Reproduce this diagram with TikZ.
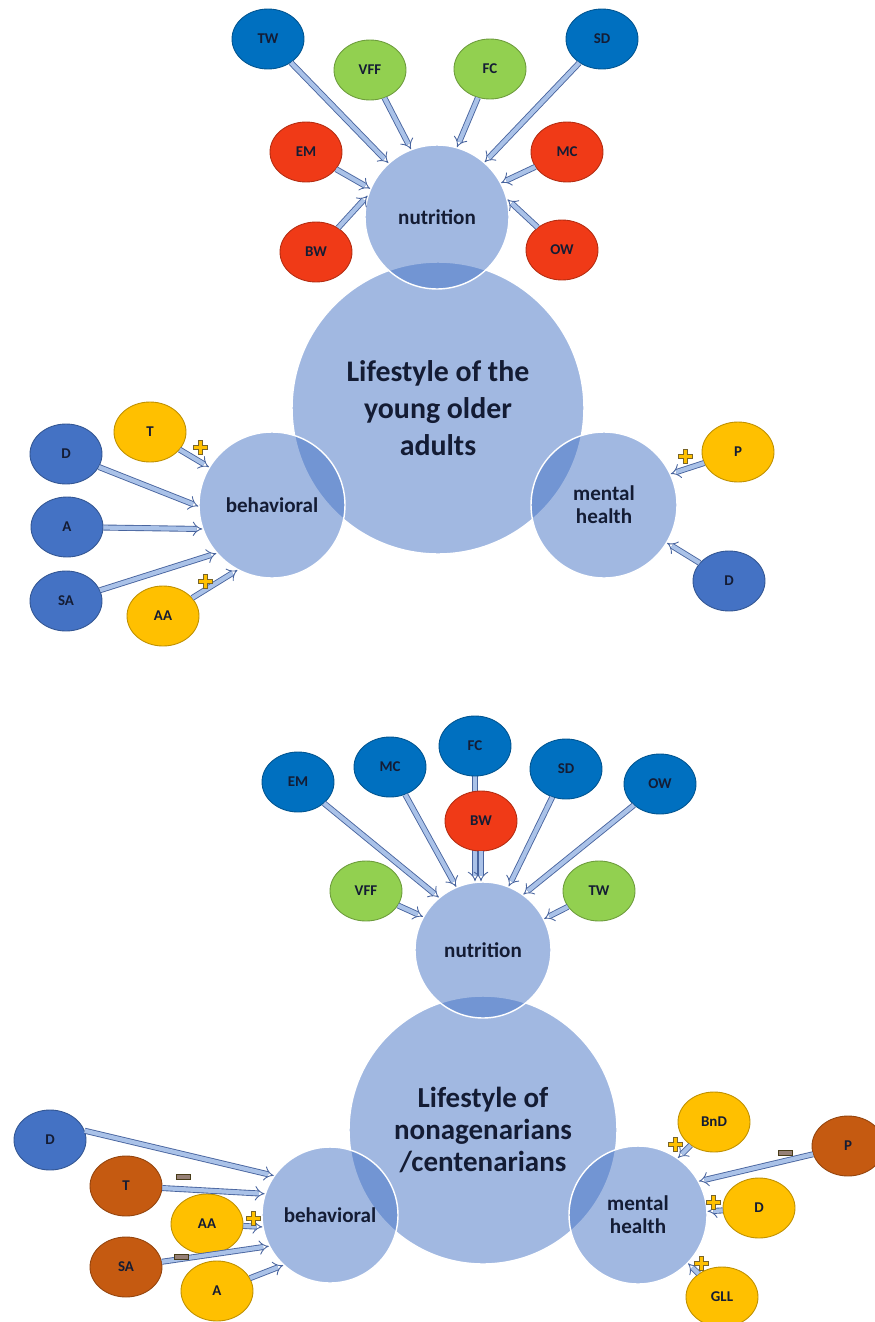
\documentclass[tikz,border=0pt]{standalone}
\usepackage{fontspec}
\setmainfont{Carlito}
\usetikzlibrary{shapes.geometric,arrows.meta,backgrounds}

\definecolor{hubblue}{RGB}{68,114,196}
\definecolor{navy}{RGB}{0,112,192}
\definecolor{midblue}{RGB}{68,114,196}
\definecolor{satred}{RGB}{240,58,23}
\definecolor{satgreen}{RGB}{146,208,80}
\definecolor{satyellow}{RGB}{255,192,0}
\definecolor{satbrown}{RGB}{197,90,17}
\definecolor{labelcol}{RGB}{20,28,52}
\definecolor{arrowedge}{RGB}{72,100,158}
\definecolor{arrowfill}{RGB}{170,194,232}
\definecolor{signedge}{RGB}{120,100,40}
\definecolor{minusfill}{RGB}{150,128,118}

\begin{document}
\begin{tikzpicture}[x=0.02cm, y=-0.02cm,
    hub/.style={circle, minimum size=#1, inner sep=0pt, fill=hubblue, fill opacity=0.5,
        text opacity=1, draw=white, line width=0.8pt, align=center, text=labelcol,
        font=\bfseries\fontsize{12}{13}\selectfont},
    big/.style={hub=#1, font=\bfseries\fontsize{17}{21}\selectfont},
    sat/.style={ellipse, minimum width=1.44cm, minimum height=1.2cm, inner sep=0pt,
        fill=#1, draw=#1!75!black, line width=0.5pt, text=labelcol,
        font=\bfseries\fontsize{8.5}{10}\selectfont},
    arr/.style={draw=arrowedge, line width=0.5pt, double=arrowfill, double distance=2.4pt, -{Implies}},
    plussign/.pic={\draw[signedge, line width=0.4pt, fill=satyellow]
        (-2,-7) -- (2,-7) -- (2,-2) -- (7,-2) -- (7,2) -- (2,2) -- (2,7) -- (-2,7)
        -- (-2,2) -- (-7,2) -- (-7,-2) -- (-2,-2) -- cycle;},
    minussign/.pic={\draw[signedge!60!black, line width=0.4pt, fill=minusfill]
        (-7,-2.5) rectangle (7,2.5);}]
    \useasboundingbox (0,0) rectangle (875,1322);

    % young older adults
    \node[big=5.84cm] (life1) at (438,408) {Lifestyle of the\\young older\\adults};
    \node[hub=2.88cm] (nut1) at (437,217) {nutrition};
    \node[hub=2.92cm] (beh1) at (272,505) {behavioral};
    \node[hub=2.92cm] (men1) at (604,505) {mental\\health};

    \node[sat=navy] (tw1) at (268,39) {TW};
    \node[sat=satgreen] (vff1) at (370,70) {VFF};
    \node[sat=satgreen] (fc1) at (490,69) {FC};
    \node[sat=navy] (sd1) at (602,39) {SD};
    \node[sat=satred] (em1) at (306,152) {EM};
    \node[sat=satred] (mc1) at (567,152) {MC};
    \node[sat=satred] (bw1) at (316,252) {BW};
    \node[sat=satred] (ow1) at (562,250) {OW};

    \node[sat=satyellow] (t1) at (150,432) {T};
    \node[sat=midblue] (d1) at (66,454) {D};
    \node[sat=midblue] (a1) at (67,527) {A};
    \node[sat=midblue] (sa1) at (66,601) {SA};
    \node[sat=satyellow] (aa1) at (163,616) {AA};

    \node[sat=satyellow] (p1) at (738,452) {P};
    \node[sat=midblue] (dm1) at (729,581) {D};

    \draw[arr] (tw1) -- (nut1.132);
    \draw[arr] (vff1) -- (nut1.111);
    \draw[arr] (fc1) -- (nut1.74);
    \draw[arr] (sd1) -- (nut1.49);
    \draw[arr] (em1) -- (nut1.157);
    \draw[arr] (mc1) -- (nut1.28);
    \draw[arr] (bw1) -- (nut1.163);
    \draw[arr] (ow1) -- (nut1.14);

    \draw[arr] (t1) -- (beh1.149);
    \draw[arr] (d1) -- (beh1.181);
    \draw[arr] (a1) -- (beh1.199);
    \draw[arr] (sa1) -- (beh1.221);
    \draw[arr] (aa1) -- (beh1.242);

    \draw[arr] (p1) -- (men1.25);
    \draw[arr] (dm1) -- (men1.-31);

    \pic at (200,447) {plussign};
    \pic at (205,581) {plussign};
    \pic at (685,456) {plussign};

    % nonagenarians / centenarians
    \node[big=5.36cm, font=\bfseries\fontsize{16.5}{18}\selectfont] (life2) at (483,1130)
        {Lifestyle of\\nonagenarians\\/centenarians};
    \node[hub=2.72cm] (nut2) at (483,950) {nutrition};
    \node[hub=2.72cm] (beh2) at (330,1215) {behavioral};
    \node[hub=2.76cm] (men2) at (638,1215) {mental\\health};

    \node[sat=navy] (em2) at (298,782) {EM};
    \node[sat=navy] (mc2) at (390,767) {MC};
    \node[sat=navy] (fc2) at (475,746) {FC};
    \node[sat=satred] (bw2) at (481,821) {BW};
    \node[sat=navy] (sd2) at (566,769) {SD};
    \node[sat=navy] (ow2) at (660,784) {OW};
    \node[sat=satgreen] (vff2) at (366,891) {VFF};
    \node[sat=satgreen] (tw2) at (599,891) {TW};

    \node[sat=midblue] (d2) at (50,1140) {D};
    \node[sat=satbrown] (t2) at (126,1186) {T};
    \node[sat=satyellow] (aa2) at (207,1224) {AA};
    \node[sat=satbrown] (sa2) at (126,1267) {SA};
    \node[sat=satyellow] (a2) at (217,1291) {A};

    \node[sat=satyellow] (bnd2) at (714,1122) {BnD};
    \node[sat=satbrown] (p2) at (848,1146) {P};
    \node[sat=satyellow] (dm2) at (759,1208) {D};
    \node[sat=satyellow] (gll2) at (722,1297) {GLL};

    \begin{scope}[on background layer]
        \draw[arr] (fc2) -- (fc2 |- nut2.north);
    \end{scope}
    \draw[arr] (bw2) -- (bw2 |- nut2.north);
    \draw[arr] (em2) -- (nut2.130);
    \draw[arr] (mc2) -- (nut2.113);
    \draw[arr] (sd2) -- (nut2.68);
    \draw[arr] (ow2) -- (nut2.54);
    \draw[arr] (vff2) -- (nut2.151);
    \draw[arr] (tw2) -- (nut2.27);

    \draw[arr] (d2.15) -- (beh2.145);
    \draw[arr] (t2) -- (beh2.162);
    \draw[arr] (aa2) -- (beh2.190);
    \draw[arr] (sa2) -- (beh2.207);
    \draw[arr] (a2) -- (beh2.227);

    \draw[arr] (bnd2) -- (men2.55);
    \draw[arr] (p2) -- (men2.29);
    \draw[arr] (dm2) -- (men2.3);
    \draw[arr] (gll2) -- (men2.-44);

    \pic at (183,1177) {minussign};
    \pic at (181,1257) {minussign};
    \pic at (785,1153) {minussign};
    \pic at (253,1218) {plussign};
    \pic at (675,1144) {plussign};
    \pic at (713,1202) {plussign};
    \pic at (701,1263) {plussign};
\end{tikzpicture}
\end{document}
